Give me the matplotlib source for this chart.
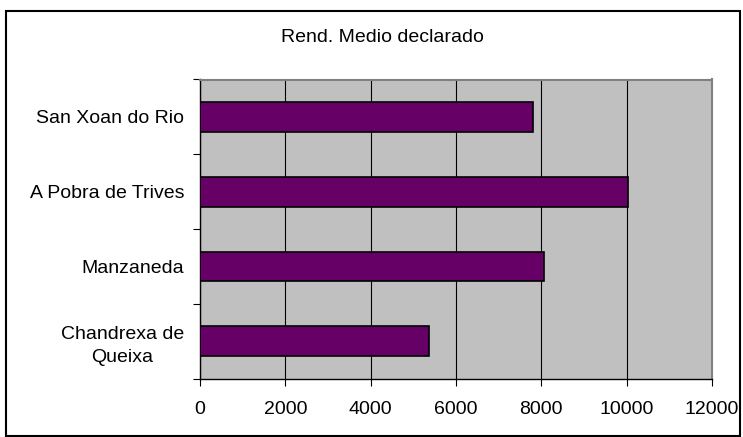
import matplotlib
matplotlib.use("Agg")
import matplotlib.pyplot as plt
from matplotlib.patches import Rectangle

categories = ["Chandrexa de\nQueixa", "Manzaneda", "A Pobra de Trives", "San Xoan do Rio"]
values = [5370, 8060, 10030, 7800]
xticks = [0, 2000, 4000, 6000, 8000, 10000, 12000]
title = "Rend. Medio declarado"

plt.rcParams['font.family'] = ['Liberation Sans', 'DejaVu Sans']

W, H = 743, 437
fig = plt.figure(figsize=(W / 100, H / 100), dpi=100)
fig.patch.set_facecolor("white")

# outer chart border
fig.add_artist(Rectangle((6 / W, 1 / H), (740 - 6) / W, (H - 11 - 1) / H,
                         transform=fig.transFigure, fill=False,
                         edgecolor="black", linewidth=1.5))

left, right = 200 / W, 712 / W
bottom, top = 1 - 378.7 / H, 1 - 79.5 / H
ax = fig.add_axes([left, bottom, right - left, top - bottom])
ax.set_facecolor("#C0C0C0")

ypos = list(range(len(categories)))
ax.barh(ypos, values, height=0.4, color="#660066", edgecolor="black", linewidth=1.2, zorder=3)

ax.set_xlim(0, 12000)
ax.set_ylim(-0.5, len(categories) - 0.5)
ax.set_xticks(xticks)
ax.set_xticklabels([str(v) for v in xticks])
ax.set_yticks(ypos)
ax.set_yticklabels(categories, multialignment="center", linespacing=1.45)
ax.set_yticks([i - 0.5 for i in range(len(categories) + 1)], minor=True)

ax.xaxis.grid(True, color="black", linewidth=0.8, zorder=1)
ax.set_axisbelow(True)

ax.tick_params(axis="x", direction="out", length=5, width=0.8, pad=11, labelsize=14, colors="black")
ax.tick_params(axis="y", which="major", length=0, pad=11.5, labelsize=14)
ax.tick_params(axis="y", which="minor", direction="out", length=5, width=0.8)

for s in ["left", "bottom"]:
    ax.spines[s].set_color("black")
    ax.spines[s].set_linewidth(1.0)
for s in ["top", "right"]:
    ax.spines[s].set_color("#808080")
    ax.spines[s].set_linewidth(1.5)

fig.text(382 / W, 1 - 38 / H, title, ha="center", va="center", fontsize=14)

fig.savefig("out.png", dpi=100)
